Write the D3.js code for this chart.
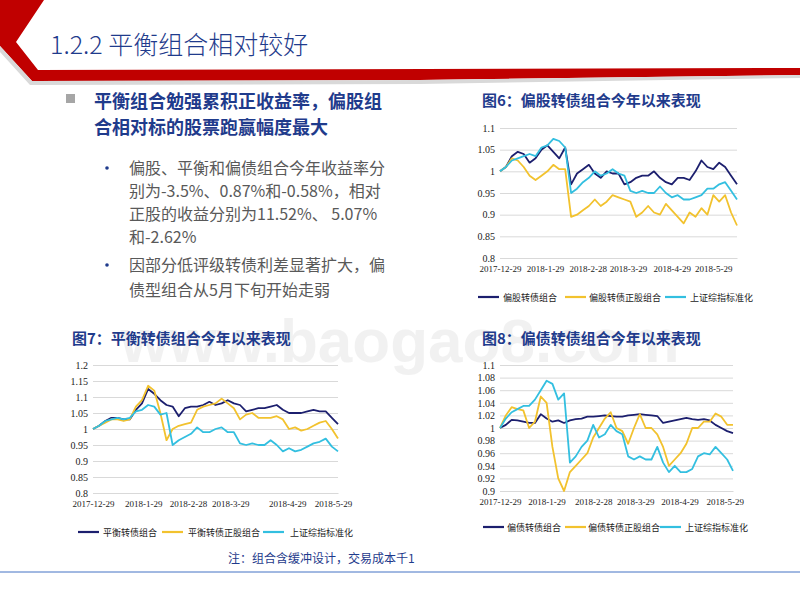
<!DOCTYPE html>
<html><head><meta charset="utf-8">
<script src="https://cdn.jsdelivr.net/npm/d3@7"></script>
<style>body{margin:0;background:#fff}svg{display:block}</style>
</head><body><svg id="s" width="800" height="600"></svg>
<script>
const xIndex = [0,1,2,3,4,5,6,7,8,9,10,11,12,13,14,15,16,17,18,19,20,21,22,23,24,25,26,27,28,29,30,31,32,33,34,35,36,37,38,39,40];
const tickLabels = ["2017-12-29","2018-1-29","2018-2-28","2018-3-29","2018-4-29","2018-5-29"];

// 图6
const c6Dark = [1.0,1.01,1.035,1.045,1.04,1.02,1.03,1.05,1.06,1.045,1.03,1.055,0.97,0.995,1.005,1.015,0.995,0.985,1.0,0.995,0.995,0.97,0.975,0.985,0.99,0.99,1.0,0.985,0.975,0.97,0.985,0.985,0.98,1.0,1.025,1.01,1.005,1.02,1.01,0.99,0.97];
const c6Yellow = [1.0,1.01,1.03,1.025,1.01,0.99,0.98,0.99,1.0,1.015,1.005,1.005,0.895,0.9,0.91,0.92,0.935,0.92,0.93,0.945,0.94,0.935,0.93,0.895,0.905,0.92,0.905,0.9,0.925,0.91,0.895,0.88,0.905,0.895,0.915,0.9,0.945,0.93,0.945,0.905,0.875];
const c6Cyan = [1.0,1.01,1.025,1.03,1.035,1.04,1.035,1.055,1.06,1.075,1.07,1.055,0.95,0.96,0.975,0.985,1.0,0.99,0.995,1.005,0.995,0.99,0.955,0.95,0.955,0.95,0.95,0.965,0.95,0.94,0.945,0.935,0.935,0.94,0.945,0.96,0.96,0.97,0.975,0.955,0.935];
const c6Ticks = [1.1,1.05,1,0.95,0.9,0.85,0.8];
const c6TickPos = [0,7.6,14.8,21.6,29,36];

// 图7
const c7Dark = [1.0,1.01,1.025,1.035,1.035,1.03,1.03,1.06,1.08,1.125,1.11,1.09,1.075,1.07,1.04,1.065,1.07,1.07,1.075,1.085,1.075,1.08,1.09,1.08,1.075,1.055,1.06,1.065,1.065,1.07,1.075,1.06,1.05,1.05,1.05,1.055,1.06,1.055,1.055,1.035,1.015];
const c7Yellow = [1.0,1.01,1.02,1.03,1.03,1.025,1.03,1.07,1.09,1.135,1.12,1.05,0.965,1.0,1.01,1.015,1.02,1.06,1.07,1.075,1.08,1.095,1.08,1.065,1.03,1.045,1.05,1.035,1.035,1.035,1.04,1.03,1.0,1.005,0.995,1.0,1.01,1.02,1.025,1.0,0.97];
const c7Cyan = [1.0,1.01,1.025,1.03,1.035,1.03,1.035,1.055,1.06,1.075,1.07,1.045,1.05,0.95,0.965,0.975,0.985,1.005,0.99,0.99,1.0,1.005,0.99,0.99,0.955,0.95,0.955,0.95,0.95,0.965,0.95,0.93,0.94,0.93,0.935,0.945,0.955,0.96,0.97,0.945,0.93];
const c7Ticks = [1.2,1.15,1.1,1.05,1,0.95,0.9,0.85,0.8];
const c7TickPos = [0,8.2,15.5,22.4,31.7,39.2];

// 图8
const c8Dark = [1.0,1.005,1.013,1.012,1.01,1.008,1.008,1.022,1.015,1.01,1.012,1.008,1.012,1.014,1.015,1.018,1.018,1.019,1.02,1.019,1.018,1.018,1.02,1.021,1.022,1.021,1.02,1.019,1.008,1.01,1.012,1.014,1.016,1.014,1.013,1.014,1.012,1.005,1.0,0.995,0.992];
const c8Yellow = [1.0,1.02,1.033,1.03,1.028,1.0,1.01,1.05,1.04,0.97,0.92,0.9,0.93,0.94,0.95,0.96,0.985,1.0,1.015,1.025,1.0,0.995,0.975,1.0,1.022,1.0,1.0,0.99,0.97,0.94,0.95,0.96,0.975,1.0,1.0,1.01,1.01,1.023,1.018,1.005,1.005];
const c8Cyan = [1.0,1.015,1.025,1.03,1.035,1.035,1.045,1.06,1.075,1.07,1.045,1.055,0.945,0.955,0.97,0.98,1.005,0.985,0.99,1.005,0.995,0.99,0.955,0.95,0.955,0.95,0.95,0.97,0.945,0.93,0.94,0.93,0.93,0.935,0.955,0.96,0.958,0.97,0.96,0.95,0.932];
const c8Ticks = [1.1,1.08,1.06,1.04,1.02,1,0.98,0.96,0.94,0.92,0.9];
const c8TickPos = [0,8,16,23.2,30.8,38.6];

const colors = ["#1c1f6e","#f2c22e","#33bfe0"];
const svg = d3.select("#s");
const NAVY = "#1f3b8c";

// header shapes
svg.append("path").attr("d","M0,0 L44,0 L16,42 L38,70 L800,68 L800,75 L420,80 L32,81 L0,46 Z").attr("fill","#c00000");
svg.append("path").attr("d","M0,46 L32,81 L420,80 L800,75 L800,78 L420,84 L30,85 L0,52Z").attr("fill","#d9d9d9");
svg.append("text").attr("x",50).attr("y",54).attr("font-size",25).attr("fill",NAVY)
  .attr("font-family","Noto Sans CJK SC").attr("font-weight",300).text("1.2.2 平衡组合相对较好");

// watermark (background)
svg.append("text").attr("x",400).attr("y",362).attr("text-anchor","middle").attr("font-size",62)
  .attr("font-family","Liberation Sans").attr("font-weight","bold").attr("fill","#000").attr("opacity",0.05)
  .text("www.baogao8.com");

// left text
svg.append("rect").attr("x",66).attr("y",94).attr("width",9).attr("height",9).attr("fill","#a6a6a6");
const tf = "Noto Sans CJK SC";
[["平衡组合勉强累积正收益率，偏股组",108],["合相对标的股票跑赢幅度最大",134]].forEach(d=>
  svg.append("text").attr("x",94).attr("y",d[1]).attr("font-size",18).attr("font-weight","bold").attr("fill",NAVY).attr("font-family",tf).text(d[0]));
[["偏股、平衡和偏债组合今年收益率分",174],["别为-3.5%、0.87%和-0.58%，相对",197],["正股的收益分别为11.52%、 5.07%",220],["和-2.62%",243],["因部分低评级转债利差显著扩大，偏",271],["债型组合从5月下旬开始走弱",296]].forEach(d=>
  svg.append("text").attr("x",129).attr("y",d[1]).attr("font-size",16).attr("fill","#595959").attr("font-family",tf).text(d[0]));
[168,265].forEach(y=>svg.append("circle").attr("cx",107).attr("cy",y).attr("r",1.8).attr("fill",NAVY));

function chart(o){
  const x = d3.scaleLinear().domain([0,40]).range([o.x0,o.x1]);
  const y = d3.scaleLinear().domain([o.min,o.max]).range([o.y1,o.y0]);
  const g = svg.append("g");
  g.append("text").attr("x",o.tx).attr("y",o.ty).attr("font-size",15).attr("font-weight","bold").attr("fill",NAVY).attr("font-family",tf).text(o.title);
  const ya = g.append("g").attr("transform",`translate(${o.x0},0)`)
    .call(d3.axisLeft(y).tickValues(o.ticks).tickSize(-(o.x1-o.x0)).tickFormat(d3.format("")));
  ya.select(".domain").remove();
  ya.selectAll("line").attr("stroke","#d9d9d9");
  ya.selectAll("text").attr("font-family","Liberation Serif").attr("font-size",10).attr("fill","#222").attr("dx",-2);
  const xa = g.append("g").attr("transform",`translate(0,${o.y1})`)
    .call(d3.axisBottom(x).tickValues(o.tickPos).tickSize(0).tickFormat((d,i)=>tickLabels[i]));
  xa.select(".domain").attr("stroke","#d9d9d9");
  xa.selectAll("text").attr("font-family","Liberation Serif").attr("font-size",9).attr("fill","#222").attr("dy","1.2em");
  o.series.forEach((s,i)=>{
    g.append("path").datum(s).attr("fill","none").attr("stroke",colors[i]).attr("stroke-width",1.8)
      .attr("stroke-linejoin","round")
      .attr("d",d3.line().x((d,j)=>x(xIndex[j])).y(d=>y(d)));
  });
  o.legend.forEach((l,i)=>{
    g.append("line").attr("x1",l[0]).attr("x2",l[0]+21).attr("y1",o.ly).attr("y2",o.ly).attr("stroke",colors[i]).attr("stroke-width",2.2);
    g.append("text").attr("x",l[1]).attr("y",o.ly+3.5).attr("font-size",9).attr("fill","#222").attr("font-family",tf).text(l[2]);
  });
}
chart({title:"图6：偏股转债组合今年以来表现",tx:482,ty:106,x0:500,x1:737,y0:128,y1:258,min:0.8,max:1.1,ticks:c6Ticks,tickPos:c6TickPos,
  series:[c6Dark,c6Yellow,c6Cyan],ly:297,legend:[[478,503,"偏股转债组合"],[565,589,"偏股转债正股组合"],[665,690,"上证综指标准化"]]});
chart({title:"图7：平衡转债组合今年以来表现",tx:72,ty:344,x0:93,x1:338,y0:365,y1:493,min:0.8,max:1.2,ticks:c7Ticks,tickPos:c7TickPos,
  series:[c7Dark,c7Yellow,c7Cyan],ly:532,legend:[[78,103,"平衡转债组合"],[162,188,"平衡转债正股组合"],[263,290,"上证综指标准化"]]});
chart({title:"图8：偏债转债组合今年以来表现",tx:482,ty:344,x0:500,x1:733,y0:365,y1:491,min:0.9,max:1.1,ticks:c8Ticks,tickPos:c8TickPos,
  series:[c8Dark,c8Yellow,c8Cyan],ly:527,legend:[[483,507,"偏债转债组合"],[565,588,"偏债转债正股组合"],[660,685,"上证综指标准化"]]});

svg.append("text").attr("x",228).attr("y",563).attr("font-size",12).attr("fill",NAVY).attr("font-family",tf).text("注：组合含缓冲设计，交易成本千1");
svg.append("line").attr("x1",0).attr("x2",800).attr("y1",572).attr("y2",572).attr("stroke","#4472c4").attr("stroke-width",1);
</script></body></html>
